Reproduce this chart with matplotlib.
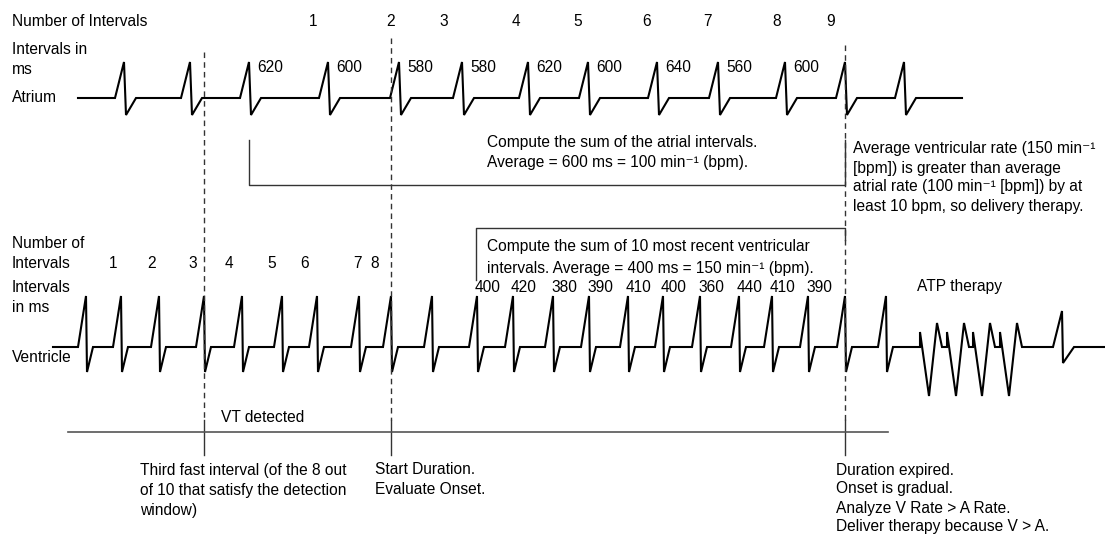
import matplotlib
matplotlib.use("Agg")
import matplotlib.pyplot as plt

plt.rcParams['font.family'] = ['Liberation Sans', 'DejaVu Sans']

# ---------------- data ----------------
atrial_intervals_ms = [620, 600, 580, 580, 620, 600, 640, 560, 600]
atrial_counts = [1, 2, 3, 4, 5, 6, 7, 8, 9]
ventricular_intervals_ms = [400, 420, 380, 390, 410, 400, 360, 440, 410, 390]
ventricular_counts = [1, 2, 3, 4, 5, 6, 7, 8]
# beat times along the schematic time axis
atrial_beats = [124, 190, 249, 328, 399, 462, 528, 588, 657, 718, 785, 845, 904]
ventricular_beats = [86, 121, 159, 204, 242, 282, 317, 359, 391, 432, 477, 513,
                     553, 589, 628, 663, 700, 739, 772, 808, 845, 886]
atp_pulses = [920, 947, 973, 1000]
post_atp_beat = [1062]
event_times = [204, 391, 845]

# ---------------- layout ----------------
FS = 11.2
atrial_count_x = [313, 391, 444, 516, 578, 647, 708, 777, 831]
atrial_label_first_beat = 2
vent_count_x = [113, 152, 193, 229, 272, 305, 358, 375]
vent_label_first_beat = 10

fig = plt.figure(figsize=(11.05, 5.37), dpi=100)
ax = fig.add_axes([0, 0, 1, 1])
ax.set_xlim(0, 1105)
ax.set_ylim(537, 0)
ax.axis('off')

# atrial waveform
A_BASE, A_TOP, A_BOT = 98, 62, 115
xs, ys = [78], [A_BASE]
for p in atrial_beats:
    xs += [p - 9, p, p + 2, p + 12]
    ys += [A_BASE, A_TOP, A_BOT, A_BASE]
xs.append(962); ys.append(A_BASE)
ax.plot(xs, ys, color='black', lw=1.5, solid_joinstyle='miter')

# ventricular waveform
V_BASE, V_TOP, V_BOT = 347, 296, 372
xs, ys = [53], [V_BASE]
for p in ventricular_beats:
    xs += [p - 8, p, p + 1, p + 7]
    ys += [V_BASE, V_TOP, V_BOT, V_BASE]
for t in atp_pulses:
    xs += [t, t, t + 9, t + 17, t + 22]
    ys += [V_BASE, 332, 396, 323, V_BASE]
for p in post_atp_beat:
    xs += [p - 9, p, p + 1, p + 12]
    ys += [V_BASE, 311, 363, V_BASE]
xs.append(1105); ys.append(V_BASE)
ax.plot(xs, ys, color='black', lw=1.5, solid_joinstyle='miter')

# event lines (dashed above, solid below timeline)
tops = [52, 38, 45]
for x, top in zip(event_times, tops):
    ax.plot([x, x], [top, 420], color='#333333', lw=1.0, dashes=(4, 3))
    ax.plot([x, x], [420, 455], color='#333333', lw=1.0)

# timeline
ax.plot([68, 888], [432, 432], color='#555555', lw=1.2)

# atrial bracket
ax.plot([249, 249, 845, 845], [140, 185, 185, 140], color='#333333', lw=1.0)
# ventricular bracket
ax.plot([476, 476, 845, 845], [280, 228, 228, 240], color='#333333', lw=1.0)

def txt(x, y, s, **kw):
    ax.text(x, y, s, fontsize=FS, ha=kw.pop('ha', 'left'), va='center', color='black', **kw)

SUP = "\u207b\u00b9"

# left labels
txt(12, 21, "Number of Intervals")
txt(12, 50, "Intervals in")
txt(12, 70, "ms")
txt(12, 97, "Atrium")
txt(12, 243, "Number of")
txt(12, 263, "Intervals")
txt(12, 288, "Intervals")
txt(12, 307, "in ms")
txt(12, 358, "Ventricle")

# atrial counts & intervals
for c, x in zip(atrial_counts, atrial_count_x):
    txt(x, 21, str(c), ha='center')
for i, v in enumerate(atrial_intervals_ms):
    p = atrial_beats[atrial_label_first_beat + i]
    txt(p + 8, 67, str(v))

# ventricular counts & intervals
for c, x in zip(ventricular_counts, vent_count_x):
    txt(x, 263, str(c), ha='center')
for i, v in enumerate(ventricular_intervals_ms):
    p = ventricular_beats[vent_label_first_beat + i]
    txt(p - 2, 287, str(v))

txt(917, 287, "ATP therapy")

# annotations
txt(487, 143, "Compute the sum of the atrial intervals.")
txt(487, 162, "Average = 600 ms = 100 min" + SUP + " (bpm).")
txt(853, 148, "Average ventricular rate (150 min" + SUP)
txt(853, 168, "[bpm]) is greater than average")
txt(853, 187, "atrial rate (100 min" + SUP + " [bpm]) by at")
txt(853, 207, "least 10 bpm, so delivery therapy.")
txt(487, 247, "Compute the sum of 10 most recent ventricular")
txt(487, 269, "intervals. Average = 400 ms = 150 min" + SUP + " (bpm).")
txt(221, 417, "VT detected")
txt(140, 470, "Third fast interval (of the 8 out")
txt(140, 490, "of 10 that satisfy the detection")
txt(140, 510, "window)")
txt(375, 470, "Start Duration.")
txt(375, 490, "Evaluate Onset.")
txt(836, 470, "Duration expired.")
txt(836, 489, "Onset is gradual.")
txt(836, 508, "Analyze V Rate > A Rate.")
txt(836, 527, "Deliver therapy because V > A.")

fig.savefig("out.png", dpi=100)
